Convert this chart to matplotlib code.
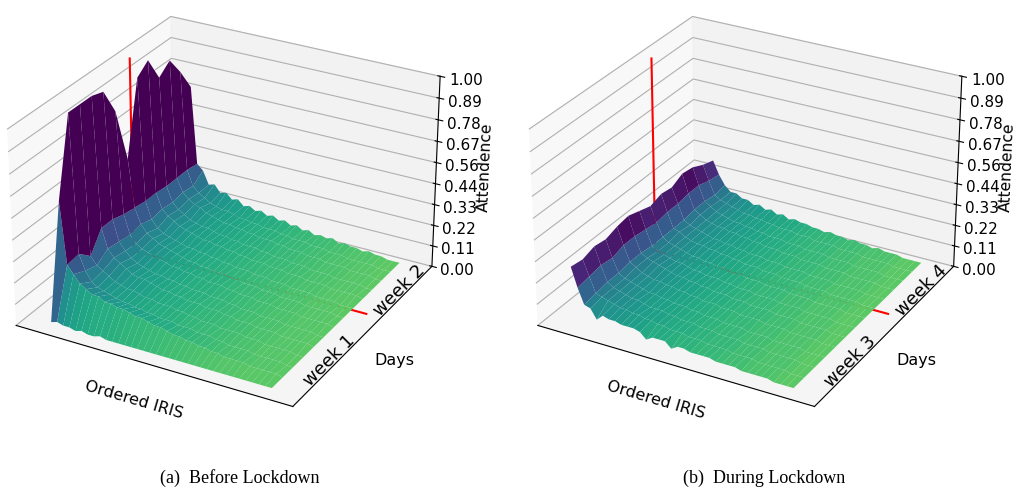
import numpy as np
import matplotlib
matplotlib.use('Agg')
import matplotlib.pyplot as plt
from matplotlib.colors import Normalize
from mpl_toolkits.mplot3d import proj3d

days = np.arange(14)
# one row per ordered IRIS bin, one column per day
before = [
    [.02,.60,1.00,1.00,1.00,.98,.84,.55,.93,.98,.85,.90,.80,.68],
    [.03,.28,.29,.23,.33,.33,.31,.30,.29,.29,.28,.28,.28,.27],
    [.02,.24,.21,.19,.23,.22,.21,.22,.20,.21,.20,.21,.20,.24],
    [.02,.20,.16,.17,.19,.18,.17,.18,.16,.18,.17,.18,.17,.17],
    [.01,.18,.14,.15,.17,.15,.15,.16,.14,.16,.15,.16,.15,.18],
    [.02,.16,.13,.13,.15,.13,.14,.14,.13,.14,.13,.15,.13,.14],
    [.01,.16,.12,.12,.13,.12,.13,.13,.12,.13,.12,.13,.12,.15],
    [.01,.14,.11,.11,.12,.11,.12,.12,.11,.12,.11,.12,.11,.12],
    [.02,.14,.10,.11,.12,.10,.11,.11,.10,.11,.11,.11,.11,.13],
    [.01,.13,.10,.10,.11,.10,.10,.10,.10,.10,.10,.10,.10,.10],
    [.01,.13,.09,.09,.10,.09,.10,.09,.09,.10,.09,.10,.09,.11],
    [.01,.12,.09,.09,.09,.09,.09,.09,.09,.09,.09,.09,.09,.09],
    [.01,.11,.08,.08,.09,.08,.09,.08,.08,.09,.08,.09,.08,.10],
    [.01,.11,.08,.08,.08,.08,.08,.08,.08,.08,.08,.08,.08,.08],
    [.01,.10,.07,.08,.08,.07,.08,.07,.07,.08,.07,.08,.07,.09],
    [.01,.09,.07,.07,.07,.07,.07,.07,.07,.07,.07,.07,.07,.07],
    [.01,.09,.07,.07,.07,.07,.07,.07,.06,.07,.07,.07,.07,.08],
    [.01,.08,.06,.06,.07,.06,.07,.06,.06,.06,.06,.07,.06,.06],
    [.01,.07,.06,.06,.06,.06,.06,.06,.06,.06,.06,.06,.06,.07],
    [.01,.07,.06,.05,.06,.06,.06,.05,.05,.06,.05,.06,.05,.05],
    [.01,.06,.05,.05,.06,.05,.05,.05,.05,.05,.05,.05,.05,.06],
    [.01,.06,.05,.05,.05,.05,.05,.05,.05,.05,.05,.05,.05,.04],
    [.01,.05,.05,.04,.05,.04,.05,.04,.04,.05,.04,.05,.04,.05],
    [.01,.05,.04,.04,.04,.04,.04,.04,.04,.04,.04,.04,.04,.04],
    [.01,.04,.04,.04,.04,.04,.04,.04,.04,.04,.04,.04,.04,.05],
    [.01,.04,.03,.04,.04,.03,.04,.03,.03,.04,.03,.04,.03,.03],
    [.01,.03,.03,.03,.03,.03,.03,.03,.03,.03,.03,.03,.03,.04],
    [.01,.03,.03,.03,.03,.03,.03,.03,.03,.03,.03,.03,.03,.03],
    [.01,.03,.03,.03,.03,.03,.03,.03,.03,.03,.03,.03,.02,.03],
    [.01,.03,.02,.02,.03,.02,.03,.02,.02,.03,.02,.03,.02,.02],
    [.01,.02,.02,.02,.02,.02,.02,.02,.02,.02,.02,.02,.02,.03],
    [.01,.02,.02,.02,.02,.02,.02,.02,.02,.02,.02,.02,.02,.02],
    [.01,.02,.02,.02,.02,.02,.02,.02,.02,.02,.02,.02,.02,.02],
    [.01,.02,.02,.02,.02,.02,.02,.02,.01,.02,.02,.02,.01,.01],
    [.01,.02,.01,.01,.02,.01,.02,.01,.01,.02,.01,.01,.01,.01],
    [.01,.01,.01,.01,.01,.01,.01,.01,.01,.01,.01,.01,.01,.01],
]
during = [
    [.31,.30,.32,.31,.33,.34,.32,.30,.32,.31,.34,.33,.30,.28],
    [.21,.22,.23,.22,.24,.24,.23,.22,.23,.23,.24,.24,.22,.21],
    [.13,.14,.15,.15,.16,.16,.15,.15,.15,.15,.16,.16,.15,.16],
    [.12,.13,.13,.13,.14,.14,.13,.13,.14,.13,.14,.14,.13,.13],
    [.07,.12,.12,.12,.12,.13,.12,.12,.12,.12,.12,.12,.12,.13],
    [.10,.11,.11,.11,.11,.12,.11,.11,.11,.11,.11,.11,.11,.11],
    [.09,.10,.10,.10,.10,.11,.10,.10,.10,.10,.10,.10,.10,.11],
    [.09,.10,.10,.09,.10,.10,.10,.09,.10,.09,.10,.09,.09,.09],
    [.08,.09,.09,.09,.09,.09,.09,.09,.09,.09,.09,.09,.09,.10],
    [.08,.09,.08,.08,.09,.09,.08,.08,.09,.08,.09,.08,.08,.08],
    [.08,.08,.08,.08,.08,.08,.08,.08,.08,.08,.08,.08,.08,.09],
    [.07,.08,.08,.07,.08,.08,.07,.07,.08,.07,.08,.07,.07,.07],
    [.04,.07,.07,.07,.07,.07,.07,.07,.07,.07,.07,.07,.07,.08],
    [.06,.07,.07,.07,.07,.07,.07,.06,.07,.06,.07,.06,.06,.06],
    [.06,.06,.06,.06,.06,.06,.06,.06,.06,.06,.06,.06,.06,.07],
    [.06,.06,.06,.06,.06,.06,.06,.06,.06,.06,.06,.06,.06,.06],
    [.03,.06,.06,.05,.06,.06,.05,.05,.06,.05,.06,.05,.05,.06],
    [.05,.05,.05,.05,.05,.05,.05,.05,.05,.05,.05,.05,.05,.05],
    [.05,.05,.05,.05,.05,.05,.05,.05,.05,.05,.05,.05,.05,.05],
    [.04,.05,.05,.04,.05,.05,.04,.04,.05,.04,.05,.04,.04,.04],
    [.04,.04,.04,.04,.04,.04,.04,.04,.04,.04,.04,.04,.04,.05],
    [.04,.04,.04,.04,.04,.04,.04,.04,.04,.04,.04,.04,.04,.04],
    [.04,.04,.04,.04,.04,.04,.04,.04,.04,.04,.04,.04,.04,.04],
    [.03,.04,.04,.03,.04,.04,.03,.03,.04,.03,.04,.03,.03,.03],
    [.03,.03,.03,.03,.03,.03,.03,.03,.03,.03,.03,.03,.03,.04],
    [.03,.03,.03,.03,.03,.03,.03,.03,.03,.03,.03,.03,.03,.03],
    [.03,.03,.03,.03,.03,.03,.03,.03,.03,.03,.03,.03,.03,.03],
    [.02,.03,.03,.02,.03,.03,.02,.02,.03,.02,.03,.02,.02,.02],
    [.02,.02,.02,.02,.02,.02,.02,.02,.02,.02,.02,.02,.02,.03],
    [.02,.02,.02,.02,.02,.02,.02,.02,.02,.02,.02,.02,.02,.02],
    [.02,.02,.02,.02,.02,.02,.02,.02,.02,.02,.02,.02,.02,.02],
    [.02,.02,.02,.02,.02,.02,.02,.02,.02,.02,.02,.02,.02,.02],
    [.01,.02,.02,.01,.02,.02,.01,.01,.02,.01,.02,.01,.01,.01],
    [.01,.01,.01,.01,.01,.01,.01,.01,.01,.01,.01,.01,.01,.01],
    [.01,.01,.01,.01,.01,.01,.01,.01,.01,.01,.01,.01,.01,.01],
    [.01,.01,.01,.01,.01,.01,.01,.01,.01,.01,.01,.01,.01,.01],
]
z_ticks = np.linspace(0, 1, 10)
week_pos = [3.4, 10.7]
marker_day = 8.0
marker_top = 1.02


def draw_panel(rect, data, weeks, caption, cap_x, vmin, vmax):
    ax = fig.add_axes(rect, projection='3d')
    ax.view_init(elev=27.5, azim=-61)
    ax.set_box_aspect((4.2, 4.2, 2.93), zoom=1.038)
    ax.computed_zorder = False
    Z = np.array(data)
    irises = np.arange(Z.shape[0])
    X, Y = np.meshgrid(irises, days, indexing='ij')
    top = irises[-1]

    # red marker between the two weeks: goes behind the surface
    ax.plot([-top * 0.034, -top * 0.034, top * 1.06], [marker_day] * 3, [marker_top, 0, 0],
            color='red', lw=1.5, zorder=1)
    ax.plot_surface(X, Y, Z, rstride=1, cstride=1, cmap='viridis_r',
                    norm=Normalize(vmin, vmax), linewidth=0, antialiased=True,
                    zorder=2)

    ax.set_xlim(-top * 0.125, top * 1.125)
    ax.set_ylim(-0.75, 13.6)
    ax.set_zlim(0, 1)
    ax.set_xticks([])
    ax.set_yticks([])
    ax.set_zticks(z_ticks, ['%.2f' % t for t in z_ticks], fontsize=11)
    ax.tick_params(axis='z', pad=3)
    # week names sit on the floor, rotated along the Days axis
    for pos, week in zip(week_pos, weeks):
        px, py, _ = proj3d.proj_transform(top * 1.095, pos, 0, ax.get_proj())
        ax.text2D(px, py, week, transform=ax.transData, rotation=45, fontsize=13,
                  ha='center', va='center', rotation_mode='anchor', zorder=3)
    ax.set_xlabel('Ordered IRIS', fontsize=11.5, labelpad=-3)
    ax.set_ylabel('Days', fontsize=11.5, labelpad=-3)
    ax.set_zlabel('Attendence', fontsize=11.2, labelpad=0)
    fig.text(cap_x, 0.018, caption, family='Liberation Serif', fontsize=13, ha='center')
    return ax


fig = plt.figure(figsize=(10.17, 4.92), dpi=100)
draw_panel([-0.0465, 0.112, 0.53, 0.935], before, ['week 1', 'week 2'], '(a)  Before Lockdown', 0.236, -0.12, 0.4)
draw_panel([0.4665, 0.112, 0.53, 0.935], during, ['week 3', 'week 4'], '(b)  During Lockdown', 0.751, -0.09, 0.3)
fig.savefig('out.png', dpi=100)
